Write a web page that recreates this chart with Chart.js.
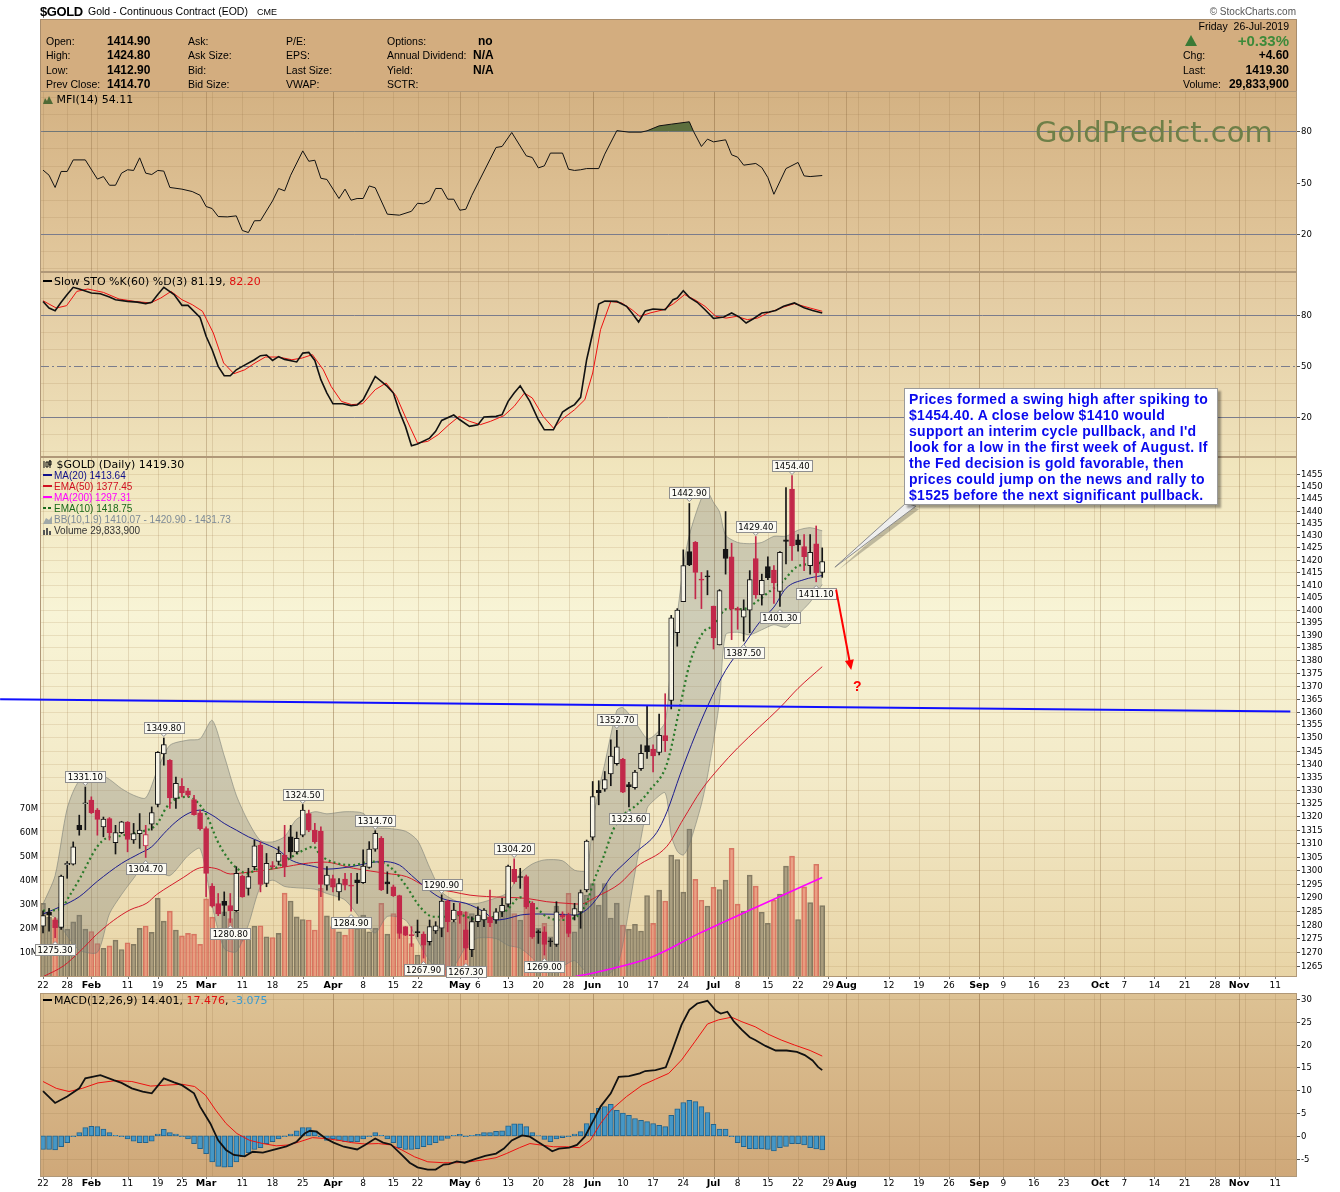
<!DOCTYPE html>
<html><head><meta charset="utf-8"><title>$GOLD - Gold Continuous Contract</title>
<script src="https://cdn.jsdelivr.net/npm/chart.js@4.4.1/dist/chart.umd.min.js"></script>
<style>
html,body{margin:0;padding:0;background:#fff}
body{width:1340px;height:1192px;position:relative;overflow:hidden;font-family:"Liberation Sans",Arial,sans-serif;color:#000}
#chart{position:absolute;left:0;top:0;width:1340px;height:1192px}
.t{position:absolute;white-space:nowrap;line-height:12px;font-size:10.5px}
.b{font-weight:bold;font-size:12px}
.r{text-align:right}
.dj{font-family:"DejaVu Sans",Verdana,sans-serif;font-size:11px}
#hdr{position:absolute;left:40px;top:19px;width:1257px;height:72px;background:#d3ad7f;border:1px solid #a98d6d;border-bottom:none;box-sizing:border-box}
.sw{display:inline-block;width:9px;height:2px;vertical-align:3px;margin-right:2px}
#note{position:absolute;left:904px;top:388px;width:314px;height:117px;box-sizing:border-box;background:#fff;border:1px solid #9a9a9a;box-shadow:3px 3px 2px rgba(0,0,0,0.35);padding:2px 0 0 4px;color:#0a0aee;font:bold 14px/16px "Liberation Sans",Arial,sans-serif;letter-spacing:0.3px;white-space:nowrap}
</style></head><body>
<div id="hdr"></div>
<canvas id="chart" width="1340" height="1192"></canvas>

<div class="t" style="left:40px;top:4px;font-size:13px;line-height:15px;font-weight:bold;letter-spacing:-0.4px">$GOLD</div>
<div class="t" style="left:88px;top:5px;line-height:13px;font-size:10.5px">Gold - Continuous Contract (EOD)</div>
<div class="t" style="left:257px;top:7px;font-size:9px;line-height:10px">CME</div>
<div class="t r" style="right:44px;top:6px;font-size:10px;color:#555">© StockCharts.com</div>

<div class="t" style="left:46px;top:35px">Open:</div><div class="t b" style="left:107px;top:35px">1414.90</div>
<div class="t" style="left:46px;top:49px">High:</div><div class="t b" style="left:107px;top:49px">1424.80</div>
<div class="t" style="left:46px;top:64px">Low:</div><div class="t b" style="left:107px;top:64px">1412.90</div>
<div class="t" style="left:46px;top:78px">Prev Close:</div><div class="t b" style="left:107px;top:78px">1414.70</div>
<div class="t" style="left:188px;top:35px">Ask:</div>
<div class="t" style="left:188px;top:49px">Ask Size:</div>
<div class="t" style="left:188px;top:64px">Bid:</div>
<div class="t" style="left:188px;top:78px">Bid Size:</div>
<div class="t" style="left:286px;top:35px">P/E:</div>
<div class="t" style="left:286px;top:49px">EPS:</div>
<div class="t" style="left:286px;top:64px">Last Size:</div>
<div class="t" style="left:286px;top:78px">VWAP:</div>
<div class="t" style="left:387px;top:35px">Options:</div><div class="t b" style="left:478px;top:35px">no</div>
<div class="t" style="left:387px;top:49px">Annual Dividend:</div><div class="t b" style="left:473px;top:49px">N/A</div>
<div class="t" style="left:387px;top:64px">Yield:</div><div class="t b" style="left:473px;top:64px">N/A</div>
<div class="t" style="left:387px;top:78px">SCTR:</div>

<div class="t r" style="right:51px;top:20px">Friday&nbsp;&nbsp;26-Jul-2019</div>
<svg style="position:absolute;left:1185px;top:35px" width="12" height="11"><path d="M6 0 L12 11 L0 11 Z" fill="#3a7a35"/></svg>
<div class="t r" style="right:51px;top:33px;font-size:15px;line-height:16px;font-weight:bold;color:#3d8a3a">+0.33%</div>
<div class="t" style="left:1183px;top:49px">Chg:</div><div class="t b r" style="right:51px;top:49px">+4.60</div>
<div class="t" style="left:1183px;top:64px">Last:</div><div class="t b r" style="right:51px;top:64px">1419.30</div>
<div class="t" style="left:1183px;top:78px">Volume:</div><div class="t b r" style="right:51px;top:78px">29,833,900</div>

<div class="t dj" style="left:43px;top:93px;line-height:13px"><svg width="10" height="9" style="vertical-align:-1px"><path d="M0 9 L2 3 L4 6 L6 1 L8 5 L10 9Z" fill="#4f6a35"/></svg> MFI(14) 54.11</div>
<div class="t dj" style="left:1035px;top:116px;font-size:29px;line-height:32px;color:#6e7f48">GoldPredict.com</div>
<div class="t dj" style="left:43px;top:275px;line-height:13px"><span class="sw" style="background:#000"></span>Slow STO %K(60) %D(3) 81.19, <span style="color:#e01010">82.20</span></div>

<div class="t dj" style="left:43px;top:458px;line-height:13px"><svg width="10" height="10" style="vertical-align:-1px"><path d="M1 2v7M3 3h2v5H3zM7 1v8M6 2h2v4H6z" stroke="#111" fill="none" stroke-width="1"/></svg> $GOLD (Daily) 1419.30</div>
<div class="t" style="left:43px;top:470px;font-size:10px;line-height:11px;color:#10108a"><span class="sw" style="background:#10108a"></span>MA(20) 1413.64</div>
<div class="t" style="left:43px;top:481px;font-size:10px;line-height:11px;color:#d01020"><span class="sw" style="background:#d01020"></span>EMA(50) 1377.45</div>
<div class="t" style="left:43px;top:492px;font-size:10px;line-height:11px;color:#ff00ff"><span class="sw" style="background:#ff00ff"></span>MA(200) 1297.31</div>
<div class="t" style="left:43px;top:503px;font-size:10px;line-height:11px;color:#1a6a1a"><span class="sw" style="background:repeating-linear-gradient(90deg,#1a6a1a 0 3px,transparent 3px 5px)"></span>EMA(10) 1418.75</div>
<div class="t" style="left:43px;top:514px;font-size:10px;line-height:11px;color:#7d8a96"><svg width="9" height="8" style="vertical-align:-1px;margin-right:2px"><path d="M0 8 L3 2 L6 4 L9 0 L9 8Z" fill="#a0a8a8"/></svg>BB(10,1.9) 1410.07 - 1420.90 - 1431.73</div>
<div class="t" style="left:43px;top:525px;font-size:10px;line-height:11px;color:#333"><svg width="9" height="8" style="vertical-align:-1px;margin-right:2px"><path d="M0 8V3h2v5zM3 8V1h2v7zM6 8V4h2v4z" fill="#555"/></svg>Volume 29,833,900</div>

<div class="t dj" style="left:43px;top:994px;line-height:13px"><span class="sw" style="background:#000"></span>MACD(12,26,9) 14.401, <span style="color:#e01010">17.476</span>, <span style="color:#3a9ad0">-3.075</span></div>

<div id="note">Prices formed a swing high after spiking to<br>$1454.40. A close below $1410 would<br>support an interim cycle pullback, and I'd<br>look for a low in the first week of August. If<br>the Fed decision is gold favorable, then<br>prices could jump on the news and rally to<br>$1525 before the next significant pullback.</div>

<script>
// ---------- DATA ----------
// daily candles, Jan 22 2019 .. Jul 26 2019 (trading-day index 0..129)
const candleOpen = [1279.5,1284.5,1281.6,1279.0,1302.0,1302.2,1316.7,1324.8,1326.2,1322.4,1316.1,1319.2,1310.2,1313.9,1317.9,1311.2,1313.6,1309.0,1317.1,1324.5,
1343.7,1341.3,1326.8,1331.4,1329.7,1326.4,1321.4,1315.5,1294.1,1287.7,1288.5,1287.0,1285.1,1297.8,1293.3,1301.3,1309.3,1295.1,1301.7,1303.2,
1305.6,1312.4,1306.8,1313.0,1321.1,1314.9,1314.5,1294.5,1296.9,1292.0,1296.7,1294.2,1296.4,1295.4,1301.0,1307.8,1311.8,1295.7,1293.9,1290.6,
1279.3,1276.3,1277.4,1276.6,1273.8,1277.7,1278.7,1288.6,1281.7,1284.9,1278.1,1270.9,1281.1,1281.7,1282.9,1281.7,1284.7,1287.5,1300.3,1297.6,
1297.6,1287.8,1277.4,1277.4,1274.0,1272.8,1283.5,1283.5,1283.5,1284.7,1292.7,1312.3,1329.9,1330.3,1336.1,1340.0,1341.6,1332.0,1330.9,1338.1,
1346.9,1345.6,1344.3,1350.7,1364.3,1390.8,1403.2,1423.3,1427.0,1412.0,1413.3,1401.4,1386.0,1424.2,1421.2,1400.4,1397.0,1399.8,1420.5,1405.9,
1417.2,1415.8,1407.3,1428.1,1448.8,1428.1,1425.3,1417.6,1426.4,1414.9];
const candleHigh = [1285.1,1286.0,1282.6,1298.2,1303.2,1310.5,1320.5,1331.1,1327.4,1323.0,1319.8,1319.6,1316.7,1318.2,1318.1,1317.4,1321.1,1316.7,1323.6,1344.6,
1349.8,1341.5,1334.9,1334.3,1330.6,1328.0,1322.4,1316.1,1295.1,1291.4,1292.0,1291.4,1301.3,1298.2,1300.7,1311.2,1310.5,1306.2,1303.2,1308.7,
1316.7,1316.7,1314.2,1324.5,1322.4,1317.4,1316.1,1301.3,1298.2,1296.9,1298.8,1298.8,1298.8,1307.5,1310.6,1314.7,1312.5,1299.4,1294.5,1290.8,
1279.3,1279.3,1281.7,1277.4,1281.7,1281.1,1290.9,1289.0,1287.8,1287.8,1284.7,1282.9,1286.5,1285.9,1292.7,1285.9,1289.6,1301.9,1304.2,1300.7,
1298.2,1288.4,1278.1,1279.3,1275.0,1288.4,1284.7,1284.2,1287.8,1292.7,1311.2,1333.2,1333.5,1337.0,1349.1,1352.7,1342.0,1332.9,1337.4,1347.2,
1362.3,1347.2,1359.0,1366.9,1397.7,1400.4,1424.0,1442.9,1427.4,1414.9,1415.6,1401.4,1408.0,1439.6,1426.7,1401.0,1403.9,1415.6,1429.4,1414.2,
1421.2,1417.6,1423.3,1449.4,1454.4,1430.2,1430.2,1430.2,1433.7,1424.8];
const candleLow = [1277.0,1277.6,1275.3,1278.3,1297.0,1301.9,1313.0,1315.0,1321.1,1313.0,1312.4,1311.2,1306.0,1313.6,1306.8,1309.9,1308.1,1304.7,1314.9,1323.6,
1339.4,1323.0,1323.0,1327.4,1327.4,1320.5,1314.9,1290.2,1286.4,1283.3,1283.3,1280.8,1284.8,1290.0,1290.8,1300.1,1292.0,1293.9,1300.7,1301.9,
1297.6,1304.4,1306.2,1312.4,1314.3,1309.9,1290.2,1292.6,1292.0,1289.0,1292.7,1284.9,1287.8,1295.1,1300.7,1307.0,1292.5,1291.4,1290.3,1275.0,
1276.0,1272.1,1275.6,1267.9,1272.6,1276.8,1275.6,1277.4,1281.1,1280.5,1267.3,1268.4,1279.3,1279.3,1279.3,1280.5,1282.9,1286.5,1295.1,1293.3,
1285.9,1275.0,1273.2,1269.0,1272.1,1272.1,1282.3,1275.6,1281.7,1278.7,1292.0,1311.2,1324.4,1329.5,1331.6,1339.4,1329.0,1323.6,1330.3,1337.4,
1342.0,1336.8,1343.3,1344.6,1361.0,1385.5,1403.2,1417.6,1404.3,1400.4,1405.9,1384.4,1386.0,1414.2,1388.1,1392.2,1387.5,1390.8,1404.5,1401.8,
1412.0,1402.5,1401.3,1418.3,1419.7,1423.5,1415.6,1414.2,1411.1,1412.9];
const candleClose = [1283.3,1283.5,1278.9,1297.8,1302.5,1308.7,1315.1,1325.0,1321.4,1318.9,1319.0,1313.9,1314.0,1318.0,1311.4,1313.6,1314.9,1313.2,1321.5,1344.3,
1347.3,1327.0,1332.5,1328.9,1328.0,1320.7,1315.4,1298.8,1286.8,1283.9,1287.0,1285.1,1298.8,1290.2,1297.6,1309.0,1294.7,1302.5,1301.3,1306.2,
1301.3,1306.8,1311.8,1322.4,1314.9,1310.5,1294.7,1298.2,1293.7,1295.1,1294.5,1294.1,1295.4,1301.5,1307.8,1313.7,1292.7,1294.9,1290.6,1276.8,
1276.2,1276.0,1277.1,1272.6,1279.3,1279.6,1288.6,1281.1,1285.3,1283.5,1271.5,1281.1,1283.5,1285.3,1280.7,1284.7,1287.1,1301.5,1295.7,1297.3,
1286.5,1275.6,1277.1,1272.8,1273.8,1284.7,1282.9,1276.8,1285.9,1291.7,1310.8,1327.5,1329.0,1333.9,1342.9,1346.4,1329.2,1331.2,1336.8,1343.9,
1344.6,1342.9,1350.8,1348.8,1396.7,1399.8,1417.6,1417.9,1414.9,1411.8,1413.1,1388.8,1407.6,1420.5,1400.2,1399.8,1399.9,1412.0,1405.9,1411.7,
1412.8,1410.7,1423.0,1427.4,1425.6,1426.0,1421.2,1423.0,1414.7,1419.3];
// volume in millions
const volumeM = [30.7,25,24.4,30.7,20,23,25.8,20,19,14,12,13,15.4,11.5,14.3,13.6,20.3,21.3,18.6,32.8,
23.3,27.5,19.6,17.2,18.2,17.9,13.6,32.6,25,19.6,27.2,24.4,27.2,15.4,20.3,21.3,21.4,16.8,16.5,18.2,
35,31.7,25.1,24,23.8,19.6,37,25.5,21,18.9,17.5,21,20.3,25.8,18.9,20.3,30.7,17.9,26.5,25.8,
18.9,14,9.2,16.8,16.8,20.3,27.9,23.8,23,26.8,27.2,26.5,25.1,25.8,23.8,26.8,29.3,36.3,26.5,23.8,
32,29.3,20.3,22.4,16.8,29.6,26.5,34.9,18.9,30,34.2,39,30,39,24.6,30.8,21.7,20,22,19.2,
34,22.4,36.2,31.7,50.8,49,35.4,61.7,40.7,32,29.6,37.4,36.5,40.4,53.6,30.4,27.5,42.5,37.9,27,
22.4,32,34.6,46.2,50.4,24,37.6,31,47,29.8];
// overlays: [day index, value]
const ma20 = [[0,1283.9],[3,1286.7],[6,1290.2],[9,1295.9],[13,1302.5],[16,1306.2],[18,1308.7],[20,1313.6],[22,1318.0],[24,1321.1],[26,1322.4],[28,1320.5],[30,1317.4],[32,1314.9],[34,1312.4],[36,1310.5],[39,1307.4],[41,1303.8],[45,1301.3],[47,1300.4],[51,1301.3],[56,1303.2],[59,1301.9],[61,1298.1],[63.5,1293.3],[66,1289.6],[70,1287.8],[73,1284.7],[75,1281.7],[77,1282.3],[79,1283.5],[82,1283.9],[85,1283.8],[88,1283.5],[90,1285.5],[92,1290.5],[94,1297.5],[96,1302],[98.3,1306.9],[101.6,1314.0],[103.3,1321.8],[105.5,1336.0],[108,1351],[110,1362],[113,1376],[116,1386],[118.6,1394.9],[121,1401],[123,1408.5],[126,1412],[129,1413.64]];
const ema50 = [[0,1261.2],[3.4,1265.1],[6.1,1270.3],[8.9,1276.5],[11.7,1281.6],[14.4,1285.4],[17.2,1287.9],[18.8,1291.0],[21,1294.2],[23.3,1297.4],[25.5,1300.5],[26.9,1301.1],[28.8,1300.5],[31,1298.6],[33.8,1299.2],[36.5,1299.9],[39.8,1301.1],[43.1,1302.4],[46.5,1303.0],[51.4,1300.7],[56.9,1298.8],[60.2,1297.6],[63.5,1293.9],[67.9,1292.0],[70.7,1290.8],[73.4,1290.3],[76.8,1290.0],[80.1,1289.6],[83.4,1288.4],[86.7,1287.8],[88.9,1287.5],[91.7,1290.3],[95.5,1295.1],[98.3,1301.3],[103.3,1308.9],[106,1319],[109,1330],[112,1338.5],[115,1346],[118.6,1354],[122,1361.5],[125,1369],[129,1377.45]];
const ma200 = [[88,1261.2],[92,1263],[100.5,1268],[108.8,1277],[118.7,1287],[129,1297.31]];
const ema10 = [[0,1285.1],[2.8,1285.7],[4.5,1291],[6.1,1297],[7.5,1303],[8.9,1308.5],[10.6,1312],[12.2,1312.5],[14.4,1313.5],[16.6,1314.5],[18.8,1317],[20.5,1323.6],[22.2,1326.8],[24.1,1327.4],[25.5,1325.5],[27.1,1320.5],[28.8,1311.2],[30.4,1305],[32.1,1300.7],[33.8,1298.8],[36,1300.7],[38.2,1300.7],[40.4,1303.8],[42.6,1306.8],[44.8,1308.7],[45.9,1305.6],[48.6,1302.6],[51.4,1301.9],[54.2,1303.2],[56.4,1302.6],[58,1300.1],[60.2,1293.9],[62.4,1286.5],[64.6,1282.9],[66.8,1282.9],[69,1283.5],[71.8,1281.9],[74.6,1282.9],[76.8,1285.3],[79,1290.0],[81.2,1287.1],[83.4,1282.9],[85.6,1281.7],[88,1282.5],[90,1288],[91.2,1296],[92.8,1305],[94.4,1315],[95.6,1319.5],[98.3,1324.4],[100.5,1330],[103.3,1340],[105.5,1362.5],[107.1,1379],[109.3,1391],[110.9,1393.5],[113.2,1400.2],[115.9,1400.2],[118.1,1403.1],[120.3,1407.3],[122.5,1411.4],[124.7,1417],[126.9,1418.3],[129,1418.75]];
const bbX     = [0,2,4,6,9,11,13,15,17,19,21,24,26,28,30,32,34,36,38,40,42,45,47,50,53,55,57,60,62,64,66,68,70,72,75,77,79,81,83,86,88,90,91,92,93,95,96,98,100,101,103,104,105,106,107,109,110,111,112,113,115,117,119,121,123,125,127,129];
const bbUpper = [1287.5,1298,1323,1333.5,1336.2,1334,1330.5,1328,1327,1338,1347,1349,1349.5,1356.6,1343,1328,1318,1311,1310.5,1312.5,1319,1321.8,1321,1321.8,1321.2,1316,1315.6,1314.5,1311,1301,1292,1289,1287.8,1287.8,1289.8,1291.8,1298.8,1302.3,1303.8,1303.5,1300,1300,1318,1330,1340,1360.5,1361.5,1356,1349.5,1350.4,1356,1381,1398,1417,1430,1445,1447.6,1443.3,1439.5,1430,1427,1426.5,1427,1429.5,1429.5,1432,1433,1431.73];
const bbLower = [1284.5,1282.5,1276,1270.8,1270,1284,1291,1297,1302.5,1300,1298,1305.4,1308,1287,1271.4,1270.2,1280,1293.9,1296.3,1294,1293.5,1293,1291.4,1289,1281,1277,1283,1281.7,1274.4,1267,1263.8,1265,1272,1275.2,1275,1272.5,1271.5,1268,1264,1265,1267,1262.6,1261.2,1261.2,1261.2,1265,1273,1299,1323,1325.8,1328.9,1313,1307,1305.6,1309.5,1324.6,1335.2,1348.7,1364,1390,1391,1390,1392,1394,1393,1398,1403,1410.07];
const mfi = [[0,57.3],[1,54.3],[2,47.1],[3,56.5],[4,56.5],[5,63.3],[7,63.3],[9,52.0],[10,53.5],[11,48.4],[12,48.4],[13,55.5],[14,57.5],[15,57.1],[16,64.5],[17,55.5],[18,54.7],[19,57.1],[20,56.7],[21,47.1],[23,46.1],[24.7,44.7],[26,42.5],[27,35.9],[28,34.7],[29,30.0],[30.5,29.8],[32,30.4],[33,21.8],[34,20.6],[35,27.5],[36,27.6],[38,39.2],[39,46.5],[40,45.1],[41,54.3],[43,68.6],[44,62.5],[45,63.1],[46,52.5],[47,51.8],[49,40.6],[50,46.1],[51,39.6],[52,40.6],[53,40.6],[54,48.0],[55,46.9],[57,31.4],[59,30.8],[61,33.1],[62,37.8],[63,37.5],[64,39.2],[65,46.5],[66,46.5],[67,40.2],[68,40.2],[69,33.7],[70,34.3],[71,42.5],[75,70.6],[76,71.2],[77.6,79.4],[80,65.7],[81,64.7],[82,58.6],[83,59.8],[84,67.3],[86,67.3],[87,57.8],[88,57.1],[89,57.5],[90,58.2],[92,58.2],[93,66.7],[95,80.5],[97,79.6],[99,79.6],[100,80.4],[102,83.3],[104,84.3],[107,85.7],[107.7,80],[109,71.2],[110,75.5],[111,73.9],[113,75.1],[114,66.3],[115,64.9],[116,60.2],[118,61.2],[119,58.8],[120,52.9],[121,43.1],[123,58.2],[125,61.8],[126,53.9],[127,53.5],[129,54.11]];
const stoK = [[0,88.0],[1,84.1],[2,82.5],[3,87.5],[4,92.0],[5,96.3],[6,95.3],[8,92.9],[9.5,92.5],[11,90.6],[12,89.0],[14,88.0],[15.6,87.6],[17,86.7],[18,87.5],[19,92.0],[20,96.3],[21.7,92.0],[23,85.7],[24,85.7],[26,78.6],[27,67.5],[28,59.6],[29,49.8],[30,44.3],[31,44.3],[32,47.8],[33,49.8],[35,53.7],[36,56.1],[37,56.5],[38,53.3],[39,55.5],[40,53.9],[42,52.4],[43,57.6],[44,58.0],[45,53.3],[46,42.0],[47,34.1],[48,27.8],[49.6,27.8],[51,26.7],[52,27.1],[53,30.2],[55,43.9],[57,38.0],[58,34.1],[59,23.3],[60,14.5],[61,3.1],[62,4.1],[64,7.6],[65,11.6],[66,18.0],[68,21.2],[69,18.4],[70.6,14.5],[72,15.5],[73,20.0],[75,20.4],[76,21.4],[77,29.2],[78,34.1],[79,38.4],[80.6,29.2],[82,18.4],[83,12.5],[84.5,12.5],[86,22.9],[87,25.3],[88,27.3],[89,31.6],[90,53.7],[91,69.4],[92,86.5],[93,88.2],[95,88.0],[96.6,85.1],[97.5,81.2],[98.6,75.9],[99.7,82.4],[101,83.5],[103,83.1],[104.3,89.0],[105,90.0],[106,94.3],[107,90.4],[108.3,87.5],[109.6,83.1],[111,78.0],[112.7,78.8],[114,81.2],[115.3,78.8],[116.4,75.3],[117.6,77.8],[119,81.2],[120.2,81.8],[121.3,82.7],[122.6,85.1],[124.4,87.1],[126,84.3],[127.4,82.7],[129,81.19]];
const stoD = [[0,88.4],[2.2,84.1],[3.9,85.5],[5.6,93.9],[7.4,95.3],[10,93.3],[12.6,89.4],[15.2,88.0],[17.8,87.1],[19.5,90],[21.2,93.9],[23,89],[24.7,86.1],[26.4,82.2],[28.2,69.4],[29.9,51.8],[31.6,45.5],[33.4,47.8],[35.1,51.8],[36.8,55.3],[39,55.3],[41.2,53.7],[42.9,54.7],[44.6,56.7],[46.4,47.8],[47.7,38.0],[49.4,29.2],[51.1,27.3],[52.9,27.8],[55,36.1],[56.8,40],[58.5,32.2],[60.2,18.4],[62,4.7],[63.7,5.7],[65.4,9.6],[67.2,15.5],[68.9,20.4],[70.6,17.5],[72.4,15.5],[74.1,17.5],[76.3,20.8],[78,26.3],[79.7,34.1],[81,31.2],[82.8,20.4],[84.5,13.5],[86.2,19.4],[88,24.3],[89.7,30.2],[91,45.9],[92.3,71.4],[94,88.0],[95.8,87.1],[97.5,83.1],[98.8,79.2],[100.5,81.2],[102.7,83.1],[104.4,86.7],[106.2,92],[107.9,89],[109.6,85.1],[111.4,79.2],[113.1,78.2],[114.8,79.2],[116.6,77.3],[118.3,78.2],[120,81.2],[122.6,84.7],[124.4,86.7],[127,84.1],[129,82.20]];
const macdLine = [[0,9.8],[2,7.2],[4,8.6],[6,10.4],[7,12.6],[9.5,13.3],[11.7,12.2],[13,11.6],[14.7,10.4],[16.5,9.7],[18,9.3],[20,12.6],[21.7,11.7],[23,11.1],[25,9.3],[26,6.4],[27.7,2.7],[29,-1.0],[30.3,-3.1],[31.6,-4.2],[33.4,-4.5],[34.7,-3.5],[36.4,-3.7],[38.1,-3.1],[40.3,-2.3],[42,-1.3],[43.3,0.5],[44.2,1.1],[45.3,0.9],[46.8,-0.6],[48.1,-1.5],[49.8,-2.4],[52,-3.0],[53.3,-2.0],[55,-0.6],[56.3,-1.5],[57.6,-1.9],[59.4,-4.2],[60.7,-5.9],[62,-6.9],[63.7,-7.4],[65,-7.4],[66.3,-6.3],[67.2,-6.2],[68.5,-5.6],[69.8,-5.9],[71.5,-5.1],[73.2,-4.4],[75,-3.9],[76.3,-2.8],[77.6,-1.0],[79.3,0.1],[80.6,-0.2],[81.9,-1.3],[83.2,-2.4],[84.3,-3.4],[85.4,-2.8],[87.1,-2.6],[88.4,-2.0],[89.7,-0.2],[91,3.1],[92.3,6.4],[94,9.3],[95.3,12.9],[97,13.1],[98.8,13.7],[99.7,14.2],[101.4,14.4],[103.1,15.0],[104,18.1],[105.7,24.3],[107,27.6],[108.3,29.0],[110,29.6],[111.4,27.4],[112.2,26.8],[113.3,27.2],[114.4,25.0],[115.7,23.2],[117,21.6],[117.9,21.0],[119.6,19.7],[121.3,18.7],[123.1,18.7],[124.8,18.4],[126.1,17.7],[127.4,16.5],[128.3,15.1],[129,14.401]];
const macdSignal = [[0,11.9],[2.2,10.4],[4.3,9.7],[6.5,10.4],[9.1,11.6],[12.1,12.1],[14.7,11.9],[17.8,10.9],[20.4,11.1],[23,11.3],[25.1,10.8],[26.9,8.9],[28.6,5.6],[30.3,2.7],[32.1,0.5],[34.2,-1.0],[36.4,-1.7],[38.6,-2.2],[40.7,-2.0],[42.5,-1.3],[44.6,-0.4],[46.8,-0.6],[49,-1.0],[51.1,-1.5],[53.3,-1.8],[55.5,-1.7],[57.6,-2.0],[59.4,-3.1],[61.5,-4.6],[63.7,-5.7],[66.3,-5.9],[68.5,-5.9],[70.6,-5.7],[72.8,-5.3],[75,-4.8],[76.7,-3.9],[78.9,-2.6],[80.6,-1.7],[82.3,-2.0],[84.5,-2.4],[86.7,-2.4],[88.8,-2.6],[90.6,-1.0],[92.3,2.7],[94,5.6],[96.6,8.6],[99.2,11.1],[101.4,12.4],[103.6,13.7],[105.7,16.6],[107.9,20.6],[110,24.5],[111.8,25.4],[114,26.0],[115.7,25.0],[117.9,23.9],[120,22.3],[122.2,21.0],[124.4,19.9],[127,18.7],[129,17.476]];
const macdHist = [-3.0,-3.0,-3.1,-2.4,-1.5,-0.2,0.7,1.8,2.1,2.0,1.5,0.7,0.1,-0.2,-0.7,-1.2,-1.5,-1.5,-1.2,0.4,
1.4,0.7,0.4,-0.2,-0.7,-1.7,-2.8,-3.9,-5.7,-6.7,-6.9,-6.8,-5.7,-4.6,-3.7,-3.0,-2.6,-1.7,-1.3,-0.7,
-0.2,0.4,1.1,1.8,1.8,1.1,-0.2,-1.0,-0.7,-1.0,-1.3,-1.3,-1.3,-0.7,-0.2,0.7,0.1,-0.7,-1.5,-2.6,
-3.0,-3.0,-2.8,-2.4,-2.0,-1.5,-1.0,-0.6,0.1,0.3,-0.2,0.1,0.3,0.7,0.7,1.0,1.1,2.2,2.6,2.6,
2.0,0.7,0.05,-0.8,-1.3,-0.7,-0.4,-0.2,0.4,0.9,2.7,4.9,6.0,6.4,6.9,5.6,5.0,4.5,3.8,3.4,
3.1,2.7,2.3,2.0,4.5,5.9,7.3,7.8,7.5,6.4,5.1,2.5,1.5,1.5,-0.2,-1.5,-2.4,-2.8,-2.9,-2.9,
-3.0,-3.3,-2.6,-2.3,-1.7,-1.7,-2.0,-2.6,-2.9,-3.075];
// x axis: trading-day index of each date label
const xTickIdx  = [0,4,8,14,19,23,27,33,38,43,48,53,58,62,69,72,77,82,87,91,96,101,106,111,115,120,125,130,133,140,145,150,155,159,164,169,175,179,184,189,194,198,204];
const xTickText = ['22','28','Feb','11','19','25','Mar','11','18','25','Apr','8','15','22','May','6','13','20','28','Jun','10','17','24','Jul','8','15','22','29','Aug','12','19','26','Sep','9','16','23','Oct','7','14','21','28','Nov','11'];
const weekIdx  = [0,4,9,14,19,23,28,33,38,43,48,53,58,62,67,72,77,82,87,91,96,101,106,111,115,120,125,130,135,140,145,150,155,159,164,169,174,179,184,189,194,199,204];
const monthIdx = [8,27,48,69,91,111,133,155,175,198];
const priceTicks = [1265,1270,1275,1280,1285,1290,1295,1300,1305,1310,1315,1320,1325,1330,1335,1340,1345,1350,1355,1360,1365,1370,1375,1380,1385,1390,1395,1400,1405,1410,1415,1420,1425,1430,1435,1440,1445,1450,1455];
const volTicks = [10,20,30,40,50,60,70];
const mfiTicks = [80,50,20];
const stoTicks = [80,50,20];
const macdTicks = [30,25,20,15,10,5,0,-5];
const oscGrid = [0,10,30,40,60,70,90,100];
// annotated highs (+1, box above) and lows (-1, box below)
const priceNotes = [[2,1275.30,-1],[7,1331.10,1],[17,1304.70,-1],[20,1349.80,1],[31,1280.80,-1],[43,1324.50,1],[51,1284.90,-1],[55,1314.70,1],[63,1267.90,-1],[66,1290.90,1],[70,1267.30,-1],[78,1304.20,1],[83,1269.00,-1],[95,1352.70,1],[97,1323.60,-1],[107,1442.90,1],[116,1387.50,-1],[118,1429.40,1],[122,1401.30,-1],[124,1454.40,1],[128,1411.10,-1]];
// hand-drawn annotations: [day index, price]
const trendLine = [[-7.1,1364.8],[206.5,1360.0]];
const arrowLine = [[131.3,1408.0],[133.8,1376.2]];
const questionAt = [134.8,1369.6];
const calloutTip = [131.1,1417.0];

// ---------- CHART ----------
const FONT = '"DejaVu Sans", Verdana, sans-serif';
const days = candleClose.map((_, i) => i);
const upDay = days.map(i => i === 0 ? candleClose[i] >= candleOpen[i] : candleClose[i] >= candleClose[i - 1]);
const hollow = days.map(i => candleClose[i] >= candleOpen[i]);
const UP = '#151515', DOWN = '#c2284a';
const cCol = days.map(i => upDay[i] ? UP : DOWN);
const P = arr => arr.map(([x, y]) => ({x, y}));
const lineDs = (data, axis, color, width, order, extra) => Object.assign({type: 'line', data: P(data), yAxisID: axis, borderColor: color, borderWidth: width, pointRadius: 0, fill: false, order}, extra || {});

const decor = {
  id: 'decor',
  beforeDatasetsDraw(chart) {
    const {ctx, chartArea: a, scales: s} = chart;
    const L = a.left, R = a.right;
    ctx.save();
    const panels = [
      ['yMfi', [[0, '#d4b283'], [1, '#e2c89d']]],
      ['ySto', [[0, '#e2c9a0'], [1, '#efe2bb']]],
      ['yPrice', [[0, '#f0e4bb'], [0.3, '#f8f4d6'], [0.62, '#f3eac8'], [1, '#e8d4a6']]],
      ['yMacd', [[0, '#ddc294'], [1, '#cfa879']]]
    ];
    for (const [id, stops] of panels) {
      const sc = s[id];
      const g = ctx.createLinearGradient(0, sc.top, 0, sc.bottom);
      for (const [o, c] of stops) g.addColorStop(o, c);
      ctx.fillStyle = g;
      ctx.fillRect(L, sc.top, R - L, sc.bottom - sc.top);
    }
    ctx.fillStyle = '#fff';
    ctx.fillRect(L, s.yGap.top, R - L, s.yGap.bottom - s.yGap.top);
    const hl = (sc, v, color, dash) => {
      const y = Math.round(sc.getPixelForValue(v)) + 0.5;
      ctx.beginPath(); ctx.setLineDash(dash || []); ctx.strokeStyle = color; ctx.lineWidth = 1;
      ctx.moveTo(L, y); ctx.lineTo(R, y); ctx.stroke();
    };
    priceTicks.forEach(v => hl(s.yPrice, v, 'rgba(175,140,90,0.20)'));
    oscGrid.forEach(v => { hl(s.yMfi, v, 'rgba(150,115,70,0.16)'); hl(s.ySto, v, 'rgba(150,115,70,0.16)'); });
    macdTicks.forEach(v => hl(s.yMacd, v, 'rgba(150,115,70,0.18)'));
    for (const id of ['yMfi', 'ySto', 'yPrice', 'yMacd']) {
      const sc = s[id];
      const vl = (i, col) => {
        const x = Math.round(s.x.getPixelForValue(i)) + 0.5;
        ctx.beginPath(); ctx.setLineDash([]); ctx.strokeStyle = col; ctx.moveTo(x, sc.top); ctx.lineTo(x, sc.bottom); ctx.stroke();
      };
      weekIdx.forEach(i => vl(i, 'rgba(150,115,70,0.20)'));
      monthIdx.forEach(i => vl(i, 'rgba(130,95,55,0.32)'));
    }
    hl(s.yMfi, 80, '#7a7c8c'); hl(s.yMfi, 20, '#7a7c8c');
    hl(s.ySto, 80, '#7a7c8c'); hl(s.ySto, 20, '#7a7c8c'); hl(s.ySto, 50, '#7a7c8c', [9, 3, 2, 3]);
    ctx.restore();
  },
  afterDatasetsDraw(chart) {
    const {ctx, chartArea: a, scales: s} = chart;
    const L = a.left, R = a.right;
    const X = i => s.x.getPixelForValue(i), Yp = v => s.yPrice.getPixelForValue(v);
    ctx.save();
    ctx.setLineDash([]);
    // panel frames
    ctx.strokeStyle = '#b09878'; ctx.lineWidth = 1;
    for (const id of ['yMfi', 'ySto', 'yPrice', 'yMacd']) {
      const sc = s[id];
      ctx.strokeRect(L + 0.5, Math.round(sc.top) + 0.5, R - L - 1, Math.round(sc.bottom - sc.top) - 1);
    }
    // right axis labels
    ctx.font = '8.5px ' + FONT; ctx.fillStyle = '#000'; ctx.textBaseline = 'middle'; ctx.textAlign = 'left';
    const rl = (sc, vals) => vals.forEach(v => {
      const y = Math.round(sc.getPixelForValue(v)) + 0.5;
      ctx.beginPath(); ctx.strokeStyle = '#555'; ctx.moveTo(R, y); ctx.lineTo(R + 3, y); ctx.stroke();
      ctx.fillText(String(v), R + 4, y + 0.5);
    });
    rl(s.yPrice, priceTicks); rl(s.yMfi, mfiTicks); rl(s.ySto, stoTicks); rl(s.yMacd, macdTicks);
    // volume labels (left)
    ctx.textAlign = 'right';
    volTicks.forEach(v => ctx.fillText(v + 'M', L - 2, s.yVol.getPixelForValue(v)));
    // date labels
    const xl = (y) => xTickIdx.forEach((i, k) => {
      const month = /^[A-Z]/.test(xTickText[k]);
      ctx.font = (month ? 'bold 9.5px ' : '9px ') + FONT;
      ctx.textAlign = 'center'; ctx.fillStyle = '#000';
      ctx.fillText(xTickText[k], X(i), y);
    });
    xl((s.yGap.top + s.yGap.bottom) / 2 + 1);
    xl(a.bottom + 7);
    ctx.strokeStyle = '#777';
    xTickIdx.forEach(i => { const x = Math.round(X(i)) + 0.5; ctx.beginPath(); ctx.moveTo(x, s.yGap.top); ctx.lineTo(x, s.yGap.top + 2); ctx.moveTo(x, a.bottom); ctx.lineTo(x, a.bottom + 2); ctx.stroke(); });
    // high / low note boxes
    ctx.font = '8.5px ' + FONT; ctx.textAlign = 'center';
    for (const [i, v, dir] of priceNotes) {
      const x = X(i), y = Yp(v);
      const txt = v.toFixed(2);
      const w = Math.ceil(ctx.measureText(txt).width) + 4, h = 11;
      const bx = Math.round(x - w / 2) + 0.5;
      const by = dir > 0 ? Math.round(y - 5 - h) + 0.5 : Math.round(y + 6) + 0.5;
      ctx.fillStyle = '#fbfaf3'; ctx.strokeStyle = '#8f8f8f';
      ctx.fillRect(bx, by, w, h); ctx.strokeRect(bx, by, w, h);
      ctx.beginPath();
      if (dir > 0) { ctx.moveTo(x - 3, by + h); ctx.lineTo(x, by + h + 3); ctx.lineTo(x + 3, by + h); }
      else { ctx.moveTo(x - 3, by); ctx.lineTo(x, by - 3); ctx.lineTo(x + 3, by); }
      ctx.closePath(); ctx.fillStyle = '#fbfaf3'; ctx.fill(); ctx.stroke();
      ctx.fillStyle = '#000'; ctx.fillText(txt, x, by + h / 2 + 0.5);
    }
    // blue trend line
    ctx.strokeStyle = '#1010ff'; ctx.lineWidth = 2;
    ctx.beginPath(); ctx.moveTo(X(trendLine[0][0]), Yp(trendLine[0][1])); ctx.lineTo(X(trendLine[1][0]), Yp(trendLine[1][1])); ctx.stroke();
    // red arrow
    const ax0 = X(arrowLine[0][0]), ay0 = Yp(arrowLine[0][1]), ax1 = X(arrowLine[1][0]), ay1 = Yp(arrowLine[1][1]);
    const ang = Math.atan2(ay1 - ay0, ax1 - ax0);
    ctx.strokeStyle = '#ff0000'; ctx.fillStyle = '#ff0000'; ctx.lineWidth = 2;
    ctx.beginPath(); ctx.moveTo(ax0, ay0); ctx.lineTo(ax1 - 6 * Math.cos(ang), ay1 - 6 * Math.sin(ang)); ctx.stroke();
    ctx.beginPath(); ctx.moveTo(ax1, ay1);
    ctx.lineTo(ax1 - 10 * Math.cos(ang) + 4.5 * Math.sin(ang), ay1 - 10 * Math.sin(ang) - 4.5 * Math.cos(ang));
    ctx.lineTo(ax1 - 10 * Math.cos(ang) - 4.5 * Math.sin(ang), ay1 - 10 * Math.sin(ang) + 4.5 * Math.cos(ang));
    ctx.closePath(); ctx.fill();
    ctx.font = 'bold 14px "Liberation Sans", Arial, sans-serif'; ctx.textAlign = 'center';
    ctx.fillText('?', X(questionAt[0]), Yp(questionAt[1]));
    // callout tail (with shadow)
    const tx = X(calloutTip[0]), ty = Yp(calloutTip[1]);
    const tail = (dx, dy) => { ctx.beginPath(); ctx.moveTo(tx + dx, ty + dy); ctx.lineTo(tx + 71 + dx, ty - 64 + dy); ctx.lineTo(tx + 81 + dx, ty - 61 + dy); ctx.closePath(); };
    tail(3, 3); ctx.fillStyle = 'rgba(0,0,0,0.22)'; ctx.fill();
    tail(0, 0); ctx.fillStyle = '#eeeeee'; ctx.fill(); ctx.strokeStyle = '#8c8c8c'; ctx.lineWidth = 1; ctx.stroke();
    ctx.restore();
  }
};

const hidden = (extra) => Object.assign({display: false, position: 'right', stack: 'panels', type: 'linear'}, extra);

new Chart(document.getElementById('chart'), {
  type: 'bar',
  data: {
    datasets: [
      {type: 'bar', label: 'Volume', data: days.map(i => ({x: i, y: volumeM[i]})), yAxisID: 'yVol',
        backgroundColor: days.map(i => upDay[i] ? 'rgba(140,130,105,0.68)' : 'rgba(230,120,100,0.6)'),
        borderColor: days.map(i => upDay[i] ? 'rgba(105,98,78,0.8)' : 'rgba(206,92,78,0.8)'),
        borderWidth: 1, borderSkipped: 'start', barThickness: 5, grouped: false, order: 100},
      lineDs(bbX.map((x, k) => [x, bbUpper[k]]), 'yPrice', 'rgba(115,120,115,0.55)', 1, 90, {fill: '+1', backgroundColor: 'rgba(125,130,122,0.34)', tension: 0.25}),
      lineDs(bbX.map((x, k) => [x, bbLower[k]]), 'yPrice', 'rgba(115,120,115,0.55)', 1, 91, {tension: 0.25}),
      lineDs(ma200, 'yPrice', '#ff00ff', 1.5, 80, {cubicInterpolationMode: 'monotone'}),
      lineDs(ema50, 'yPrice', '#d41c2c', 1, 70, {cubicInterpolationMode: 'monotone'}),
      lineDs(ma20, 'yPrice', '#1c1c8e', 1, 60, {cubicInterpolationMode: 'monotone'}),
      lineDs(ema10, 'yPrice', '#2a7a2a', 2.2, 55, {borderDash: [2, 3], cubicInterpolationMode: 'monotone'}),
      {type: 'bar', label: 'wick', data: days.map(i => ({x: i, y: [candleLow[i], candleHigh[i]]})), yAxisID: 'yPrice',
        backgroundColor: cCol, borderWidth: 0, barThickness: 1, grouped: false, order: 20},
      {type: 'bar', label: 'body', data: days.map(i => ({x: i, y: [candleOpen[i], candleClose[i]]})), yAxisID: 'yPrice',
        backgroundColor: days.map(i => hollow[i] ? '#f7f4e6' : cCol[i]), borderColor: cCol, borderWidth: 1,
        borderSkipped: false, minBarLength: 1, barThickness: 5, grouped: false, order: 10},
      lineDs(mfi, 'yMfi', '#111', 1, 5, {fill: {target: {value: 80}, above: 'rgba(86,108,58,0.95)', below: 'rgba(0,0,0,0)'}}),
      lineDs(stoD, 'ySto', '#ee1111', 1, 6),
      lineDs(stoK, 'ySto', '#111', 1.6, 5),
      {type: 'bar', label: 'hist', data: days.map(i => ({x: i, y: macdHist[i]})), yAxisID: 'yMacd',
        backgroundColor: '#4597c6', borderColor: '#23638c', borderWidth: 1, borderSkipped: false, barThickness: 5, grouped: false, order: 30},
      lineDs(macdSignal, 'yMacd', '#ee1111', 1, 6),
      lineDs(macdLine, 'yMacd', '#111', 1.8, 5)
    ]
  },
  options: {
    responsive: false, animation: false, devicePixelRatio: 1, events: [],
    layout: {padding: {left: 40, right: 43, top: 91, bottom: 15}},
    plugins: {legend: {display: false}, tooltip: {enabled: false}},
    scales: {
      x: {type: 'linear', min: -0.5, max: 207.6, display: false, offset: false},
      yMfi: hidden({stackWeight: 181, weight: 1, min: -2.6, max: 103.8}),
      ySto: hidden({stackWeight: 185, weight: 2, min: -3.5, max: 105.3}),
      yPrice: hidden({type: 'logarithmic', stackWeight: 520, weight: 3, min: 1261.1, max: 1462.1}),
      yGap: hidden({stackWeight: 16, weight: 4, min: 0, max: 1}),
      yMacd: hidden({stackWeight: 184, weight: 5, min: -9.03, max: 31.3}),
      yVol: {type: 'linear', display: false, position: 'left', min: -83.3, max: 369.2}
    }
  },
  plugins: [decor]
});
</script>
</body></html>
